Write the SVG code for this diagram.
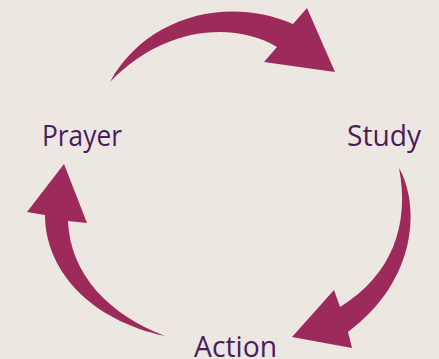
<svg xmlns="http://www.w3.org/2000/svg" width="439" height="359" viewBox="0 0 439 359">
<style>
.arrow{fill:#9c2a5b;stroke:none}
.lbl{font-family:"Open Sans","Noto Sans",sans-serif;font-size:29px;fill:#4b1c5f}
</style>
<rect width="439" height="359" fill="#ece7e1"/>
<g id="connectors">
<path id="arrow-prayer-study" class="arrow" d="M110,82 C145,18 225,-5 293,24 L307,8 L335,72 L264,62 L277,47 C235,22 165,25 110,82 Z"/>
<path id="arrow-study-action" class="arrow" d="M399,168 C420,205 418,280 348,332 L352,348 L292,337 L334,290 L340,307 C392,275 410,225 399,168 Z"/>
<path id="arrow-action-prayer" class="arrow" d="M165,336 C110,315 70,275 68,221 L87,223 L64,164 L27,212 L45,215 C45,270 90,320 165,336 Z"/>
</g>
<g id="node-prayer"><text class="lbl" x="42" y="146" textLength="80" lengthAdjust="spacingAndGlyphs">Prayer</text></g>
<g id="node-study"><text class="lbl" x="347" y="146" textLength="74" lengthAdjust="spacingAndGlyphs">Study</text></g>
<g id="node-action"><text class="lbl" x="194" y="356.5" textLength="83" lengthAdjust="spacingAndGlyphs">Action</text></g>
</svg>
